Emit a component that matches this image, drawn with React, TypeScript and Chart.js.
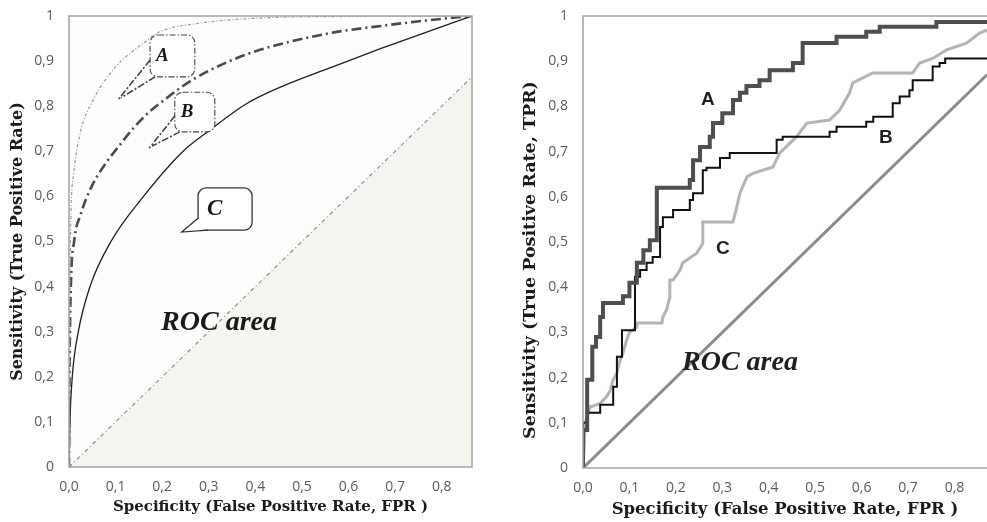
import React, { useEffect, useRef } from 'react';
import { Chart, registerables } from 'chart.js';

Chart.register(...registerables);

// ---------- shared ticks ----------
const xTickValues = [0, 0.1, 0.2, 0.3, 0.4, 0.5, 0.6, 0.7, 0.8];
const yTickValues = [0, 0.1, 0.2, 0.3, 0.4, 0.5, 0.6, 0.7, 0.8, 0.9, 1];
const xTitle = 'Specificity (False Positive Rate, FPR )';
const leftYTitle = 'Sensitivity (True Positive Rate)';
const rightYTitle = 'Sensitivity (True Positive Rate, TPR)';

// ---------- left chart (theoretical smooth ROC curves) ----------
const leftXMax = 0.865;
const smoothAx = [0, 0.001, 0.003, 0.01, 0.024, 0.052, 0.1, 0.16, 0.195, 0.28, 0.4, 0.6, 0.865];
const smoothAy = [0, 0.2, 0.5, 0.65, 0.74, 0.814, 0.887, 0.94, 0.965, 0.984, 0.995, 0.999, 1];
const smoothBx = [0, 0.001, 0.004, 0.011, 0.025, 0.05, 0.08, 0.106, 0.137, 0.17, 0.206, 0.238, 0.267, 0.345, 0.41, 0.56, 0.67, 0.775, 0.865];
const smoothBy = [0, 0.2, 0.4, 0.5, 0.56, 0.625, 0.675, 0.71, 0.75, 0.785, 0.815, 0.84, 0.86, 0.9, 0.925, 0.962, 0.978, 0.991, 1];
const smoothCx = [0, 0.002, 0.007, 0.02, 0.045, 0.09, 0.16, 0.245, 0.3, 0.38, 0.46, 0.56, 0.67, 0.775, 0.865];
const smoothCy = [0, 0.1, 0.2, 0.3, 0.4, 0.5, 0.6, 0.7, 0.745, 0.805, 0.845, 0.885, 0.928, 0.967, 1];
const leftDiagX = [0, 0.865];
const leftDiagY = [0, 0.865];

// callouts on the left chart (data coordinates)
const leftCallouts = [
  { label: 'A', x0: 0.174, x1: 0.27, yTop: 0.958, yBot: 0.865, tipX: 0.105, tipY: 0.814, solid: false, size: 19 },
  { label: 'B', x0: 0.227, x1: 0.313, yTop: 0.831, yBot: 0.743, tipX: 0.172, tipY: 0.707, solid: false, size: 19 },
  { label: 'C', x0: 0.277, x1: 0.393, yTop: 0.619, yBot: 0.525, tipX: 0.242, tipY: 0.521, solid: true, size: 23 },
];
const leftAreaText = { text: 'ROC area', x: 0.322, y: 0.319 };

// ---------- right chart (empirical step ROC curves) ----------
const rightXMax = 0.87;
const stepAx = [0, 0, 0.009, 0.009, 0.02, 0.02, 0.028, 0.028, 0.037, 0.037, 0.043, 0.043, 0.086, 0.086, 0.1, 0.1, 0.116, 0.116, 0.13, 0.13, 0.144, 0.144, 0.159, 0.159, 0.23, 0.23, 0.237, 0.237, 0.252, 0.252, 0.273, 0.273, 0.28, 0.28, 0.3, 0.3, 0.323, 0.323, 0.338, 0.338, 0.352, 0.352, 0.38, 0.38, 0.402, 0.402, 0.452, 0.452, 0.473, 0.473, 0.546, 0.546, 0.61, 0.61, 0.639, 0.639, 0.761, 0.761, 0.87];
const stepAy = [0, 0.084, 0.084, 0.195, 0.195, 0.268, 0.268, 0.29, 0.29, 0.334, 0.334, 0.365, 0.365, 0.38, 0.38, 0.41, 0.41, 0.454, 0.454, 0.482, 0.482, 0.504, 0.504, 0.62, 0.62, 0.637, 0.637, 0.681, 0.681, 0.71, 0.71, 0.733, 0.733, 0.763, 0.763, 0.785, 0.785, 0.814, 0.814, 0.83, 0.83, 0.845, 0.845, 0.858, 0.858, 0.88, 0.88, 0.896, 0.896, 0.94, 0.94, 0.954, 0.954, 0.965, 0.965, 0.976, 0.976, 0.987, 0.987];
const stepBx = [0, 0, 0.009, 0.009, 0.037, 0.037, 0.065, 0.065, 0.073, 0.073, 0.084, 0.084, 0.112, 0.112, 0.123, 0.123, 0.137, 0.137, 0.15, 0.15, 0.166, 0.166, 0.172, 0.172, 0.194, 0.194, 0.23, 0.23, 0.237, 0.237, 0.258, 0.258, 0.266, 0.266, 0.295, 0.295, 0.316, 0.316, 0.417, 0.417, 0.43, 0.43, 0.531, 0.531, 0.546, 0.546, 0.61, 0.61, 0.625, 0.625, 0.667, 0.667, 0.682, 0.682, 0.703, 0.703, 0.71, 0.71, 0.753, 0.753, 0.768, 0.768, 0.78, 0.78, 0.87];
const stepBy = [0, 0.1, 0.1, 0.122, 0.122, 0.14, 0.14, 0.18, 0.18, 0.246, 0.246, 0.305, 0.305, 0.423, 0.423, 0.438, 0.438, 0.454, 0.454, 0.467, 0.467, 0.533, 0.533, 0.555, 0.555, 0.571, 0.571, 0.593, 0.593, 0.608, 0.608, 0.659, 0.659, 0.664, 0.664, 0.686, 0.686, 0.697, 0.697, 0.726, 0.726, 0.733, 0.733, 0.744, 0.744, 0.755, 0.755, 0.766, 0.766, 0.777, 0.777, 0.807, 0.807, 0.822, 0.822, 0.836, 0.836, 0.858, 0.858, 0.888, 0.888, 0.896, 0.896, 0.906, 0.906];
const stepCx = [0, 0.005, 0.015, 0.037, 0.05, 0.058, 0.065, 0.073, 0.08, 0.086, 0.094, 0.1, 0.116, 0.116, 0.17, 0.172, 0.18, 0.187, 0.187, 0.194, 0.209, 0.215, 0.245, 0.258, 0.258, 0.323, 0.331, 0.338, 0.353, 0.366, 0.409, 0.424, 0.46, 0.482, 0.531, 0.553, 0.574, 0.581, 0.624, 0.71, 0.725, 0.753, 0.783, 0.826, 0.854, 0.87];
const stepCy = [0, 0.1, 0.135, 0.143, 0.157, 0.17, 0.195, 0.21, 0.239, 0.254, 0.283, 0.3, 0.312, 0.321, 0.321, 0.334, 0.35, 0.378, 0.416, 0.416, 0.438, 0.454, 0.475, 0.497, 0.544, 0.544, 0.577, 0.608, 0.644, 0.652, 0.666, 0.697, 0.733, 0.763, 0.77, 0.792, 0.83, 0.852, 0.874, 0.874, 0.896, 0.906, 0.925, 0.94, 0.962, 0.969];
const rightDiagX = [0, 0.87];
const rightDiagY = [0, 0.87];

const rightLabels = [
  { text: 'A', x: 0.269, y: 0.814 },
  { text: 'B', x: 0.652, y: 0.73 },
  { text: 'C', x: 0.301, y: 0.485 },
];
const rightAreaText = { text: 'ROC area', x: 0.338, y: 0.232 };

// ---------- helpers ----------
const zip = (xs: number[], ys: number[]) => xs.map((x, i) => ({ x, y: ys[i] }));
const fmtX = (v: number) => (v === 0 ? '0,0' : v.toFixed(1).replace('.', ','));
const fmtY = (v: number) => (v === 0 ? '0' : v === 1 ? '1' : v.toFixed(1).replace('.', ','));

const tickFont = { family: '"Open Sans", sans-serif', size: 14 };
const serifBold = (size: number) => ({ family: '"DejaVu Serif", serif', size, weight: 'bold' as const });

function makeScales(xMax: number, yWidth: number, xHeight: number, yTitle: string, yTitleShow: boolean, yTitlePad: number, yFontSize: number, xTitlePad: number, xFontSize: number) {
  const noPad = (s: any) => { s.paddingTop = 0; s.paddingBottom = 0; s.paddingLeft = 0; s.paddingRight = 0; };
  return {
    x: {
      type: 'linear' as const,
      min: 0,
      max: xMax,
      grid: { display: false, drawTicks: false },
      border: { display: false },
      afterBuildTicks: (s: any) => { s.ticks = xTickValues.map((v) => ({ value: v })); },
      afterFit: (s: any) => { s.height = xHeight; noPad(s); },
      ticks: { color: '#5a5a5a', font: tickFont, padding: 12, maxRotation: 0, autoSkip: false, callback: (v: any) => fmtX(Number(v)) },
      title: { display: true, text: xTitle, color: '#1a1a1a', font: serifBold(xFontSize), padding: { top: 0, bottom: xTitlePad } },
    },
    y: {
      type: 'linear' as const,
      min: 0,
      max: 1,
      grid: { display: false, drawTicks: false },
      border: { display: false },
      afterBuildTicks: (s: any) => { s.ticks = yTickValues.map((v) => ({ value: v })); },
      afterFit: (s: any) => { s.width = yWidth; noPad(s); },
      ticks: { color: '#5a5a5a', font: tickFont, padding: 15, autoSkip: false, callback: (v: any) => fmtY(Number(v)) },
      title: { display: yTitleShow, text: yTitle, color: '#1a1a1a', font: serifBold(yFontSize), padding: { top: yTitlePad, bottom: 0 } },
    },
  };
}

const leftDecor = {
  id: 'leftDecor',
  beforeDatasetsDraw(chart: any) {
    const { ctx, chartArea: a } = chart;
    ctx.save();
    ctx.fillStyle = '#fdfdfd';
    ctx.fillRect(a.left, a.top, a.width, a.height);
    ctx.restore();
  },
  afterDatasetsDraw(chart: any) {
    const { ctx, chartArea: a, scales } = chart;
    const sx = scales.x, sy = scales.y;
    ctx.save();
    for (const c of leftCallouts) {
      const x0 = sx.getPixelForValue(c.x0), x1 = sx.getPixelForValue(c.x1);
      const yt = sy.getPixelForValue(c.yTop), yb = sy.getPixelForValue(c.yBot);
      const tx = sx.getPixelForValue(c.tipX), ty = sy.getPixelForValue(c.tipY);
      const w = x1 - x0, h = yb - yt;
      ctx.lineWidth = c.solid ? 1.3 : 1.1;
      ctx.strokeStyle = c.solid ? '#333' : '#444';
      ctx.setLineDash(c.solid ? [] : [6, 2, 1.5, 2]);
      ctx.fillStyle = '#ffffff';
      ctx.beginPath();
      ctx.roundRect(x0, yt, w, h, 8);
      ctx.fill();
      ctx.stroke();
      if (c.solid) {
        const b1x = x0, b1y = yb - 12, b2x = x0 + 10, b2y = yb;
        ctx.beginPath();
        ctx.moveTo(b1x + 1, b1y);
        ctx.lineTo(tx, ty);
        ctx.lineTo(b2x, b2y - 1);
        ctx.closePath();
        ctx.fill();
        ctx.beginPath();
        ctx.moveTo(b1x, b1y);
        ctx.lineTo(tx, ty);
        ctx.lineTo(b2x, b2y);
        ctx.stroke();
      } else {
        ctx.lineWidth = 1.6;
        ctx.setLineDash([7, 2, 2, 2]);
        ctx.beginPath();
        ctx.moveTo(x0, yt + h * 0.6);
        ctx.lineTo(tx, ty);
        ctx.moveTo(x0 + 5, yb);
        ctx.lineTo(tx + 3, ty - 2);
        ctx.stroke();
      }
      ctx.setLineDash([]);
      ctx.fillStyle = '#1a1a1a';
      ctx.font = `italic bold ${c.size}px "Liberation Serif", serif`;
      ctx.textAlign = 'left';
      ctx.textBaseline = 'middle';
      ctx.fillText(c.label, x0 + (c.solid ? 9 : 6), (yt + yb) / 2);
    }
    ctx.fillStyle = '#1a1a1a';
    ctx.font = 'italic bold 28px "Liberation Serif", serif';
    ctx.textAlign = 'center';
    ctx.textBaseline = 'middle';
    ctx.fillText(leftAreaText.text, sx.getPixelForValue(leftAreaText.x), sy.getPixelForValue(leftAreaText.y));
    ctx.strokeStyle = '#a3a3a3';
    ctx.lineWidth = 1.5;
    ctx.strokeRect(a.left, a.top, a.width, a.height);
    ctx.restore();
  },
};

const rightDecor = {
  id: 'rightDecor',
  afterDatasetsDraw(chart: any) {
    const { ctx, chartArea: a, scales } = chart;
    const sx = scales.x, sy = scales.y;
    ctx.save();
    ctx.fillStyle = '#1f1f1f';
    ctx.font = 'bold 19px "Liberation Sans", sans-serif';
    ctx.textAlign = 'center';
    ctx.textBaseline = 'middle';
    for (const l of rightLabels) {
      ctx.fillText(l.text, sx.getPixelForValue(l.x), sy.getPixelForValue(l.y));
    }
    ctx.font = 'italic bold 28px "Liberation Serif", serif';
    ctx.fillText(rightAreaText.text, sx.getPixelForValue(rightAreaText.x), sy.getPixelForValue(rightAreaText.y));
    ctx.strokeStyle = '#a3a3a3';
    ctx.lineWidth = 1.5;
    ctx.strokeRect(a.left, a.top, a.width + 4, a.height);
    // y-axis title, sitting a little below the axis centre as in the original
    ctx.save();
    ctx.translate(37, (a.top + a.bottom) / 2 + 18);
    ctx.rotate(-Math.PI / 2);
    ctx.fillStyle = '#1a1a1a';
    ctx.font = 'bold 17.5px "DejaVu Serif", serif';
    ctx.fillText(rightYTitle, 0, 0);
    ctx.restore();
    ctx.restore();
  },
};

function LeftChart() {
  const ref = useRef<HTMLCanvasElement>(null);
  useEffect(() => {
    if (!ref.current) return;
    const line = (xs: number[], ys: number[], color: string, width: number, dash: number[], extra: any = {}) => ({
      data: zip(xs, ys), showLine: true, borderColor: color, borderWidth: width, borderDash: dash,
      pointRadius: 0, fill: false, cubicInterpolationMode: 'monotone', tension: 0.4, ...extra,
    });
    const chart = new Chart(ref.current, {
      type: 'scatter',
      data: {
        datasets: [
          line(smoothAx, smoothAy, '#9a9a9a', 1.2, [3, 2, 1, 2]),
          line(smoothBx, smoothBy, '#4a4a4a', 2.6, [10, 4, 2, 4]),
          line(smoothCx, smoothCy, '#1e1e1e', 1.3, []),
          line(leftDiagX, leftDiagY, '#8c8c8c', 1.2, [4, 3, 1, 3], { fill: 'origin', backgroundColor: '#f6f4ef', tension: 0 }),
        ] as any,
      },
      options: {
        animation: false,
        responsive: false,
        devicePixelRatio: 1,
        layout: { padding: { left: 0, top: 16, right: 21, bottom: 0 } },
        plugins: { legend: { display: false }, tooltip: { enabled: false } },
        scales: makeScales(leftXMax, 69, 55, leftYTitle, true, 8.5, 16, 6, 15) as any,
      },
      plugins: [leftDecor],
    });
    return () => chart.destroy();
  }, []);
  return <canvas ref={ref} width={493} height={522} style={{ position: 'absolute', left: 0, top: 0 }} />;
}

function RightChart() {
  const ref = useRef<HTMLCanvasElement>(null);
  useEffect(() => {
    if (!ref.current) return;
    const line = (xs: number[], ys: number[], color: string, width: number) => ({
      data: zip(xs, ys), showLine: true, borderColor: color, borderWidth: width,
      pointRadius: 0, fill: false, tension: 0, borderJoinStyle: 'miter',
    });
    const chart = new Chart(ref.current, {
      type: 'scatter',
      data: {
        datasets: [
          line(stepAx, stepAy, '#4e4e4e', 4),
          line(stepBx, stepBy, '#101010', 2),
          line(stepCx, stepCy, '#b4b4b4', 3),
          line(rightDiagX, rightDiagY, '#8a8a8a', 3),
        ] as any,
      },
      options: {
        animation: false,
        responsive: false,
        devicePixelRatio: 1,
        layout: { padding: { left: 0, top: 16, right: 0, bottom: 0 } },
        plugins: { legend: { display: false }, tooltip: { enabled: false } },
        scales: makeScales(rightXMax, 90, 54, rightYTitle, false, 27, 17.5, 2, 16.5) as any,
      },
      plugins: [rightDecor],
    });
    return () => chart.destroy();
  }, []);
  return <canvas ref={ref} width={494} height={522} style={{ position: 'absolute', left: 493, top: 0 }} />;
}

export default function App() {
  return (
    <div style={{ position: 'absolute', left: 0, top: 0, width: 987, height: 522, background: '#ffffff', overflow: 'hidden' }}>
      <LeftChart />
      <RightChart />
    </div>
  );
}
